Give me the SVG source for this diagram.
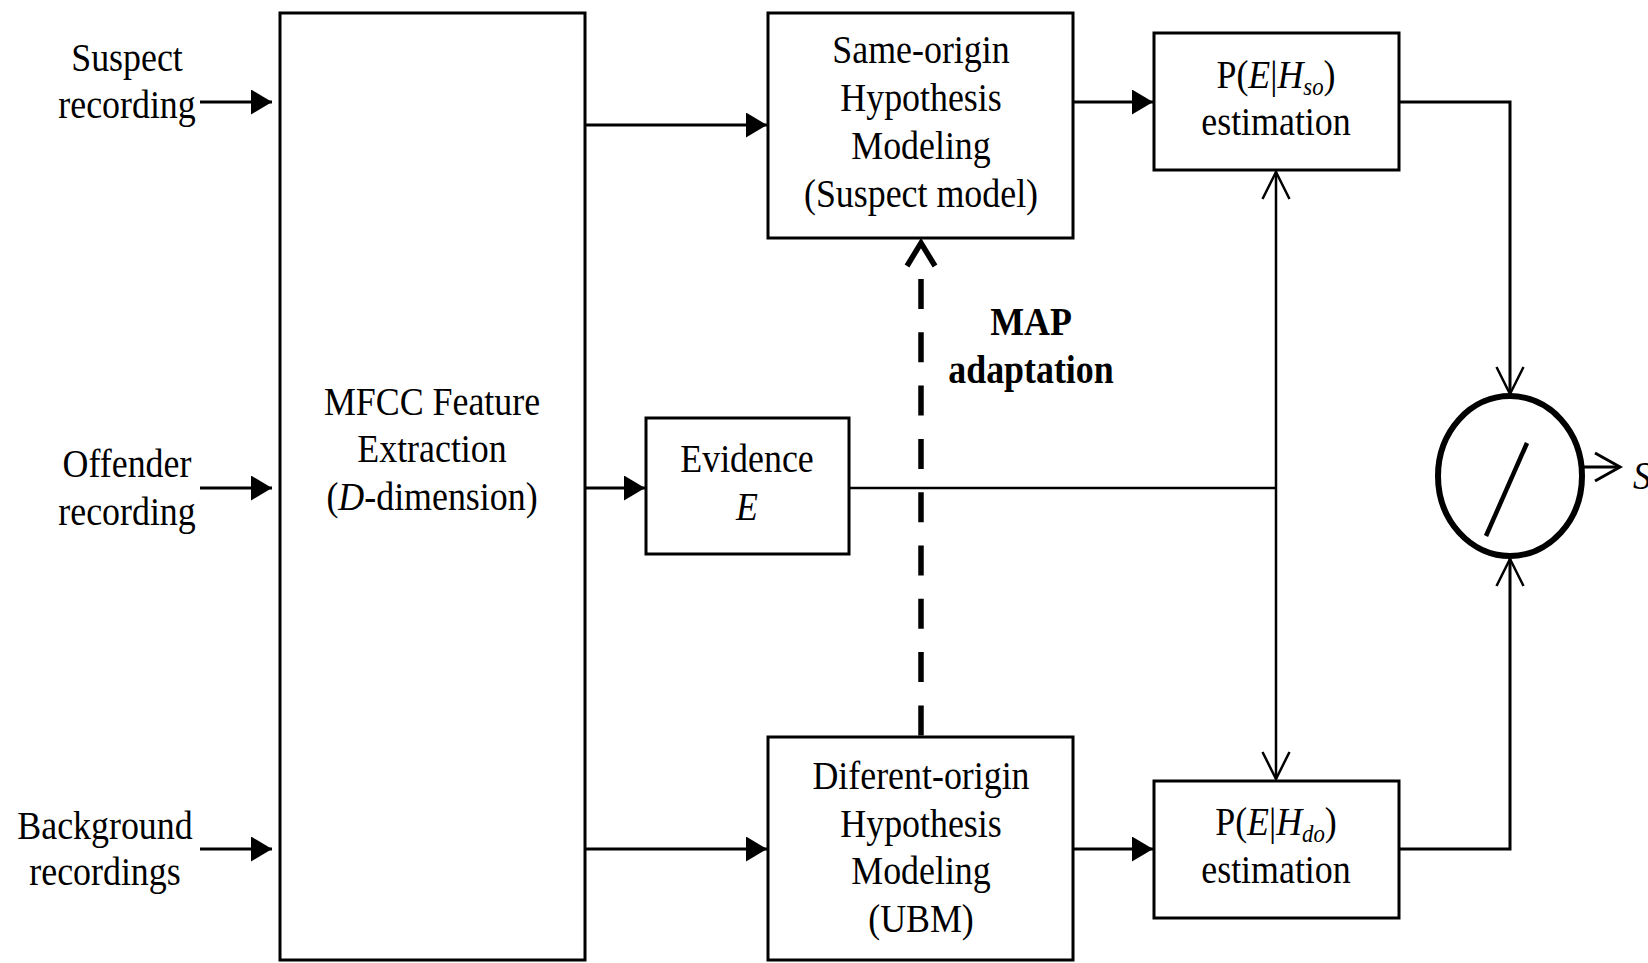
<svg xmlns="http://www.w3.org/2000/svg" width="1648" height="963" viewBox="0 0 1648 963">
<style>
.box{fill:#fff;stroke:#000;stroke-width:3}
.t{font-family:"Liberation Serif","Times New Roman",serif;font-size:41px;text-anchor:middle;fill:#000}
.b{font-weight:bold}
.i{font-style:italic}
.sub{font-style:italic;font-size:26px}
.conn{fill:none;stroke:#000;stroke-width:3}
.thin{fill:none;stroke:#000;stroke-width:2.5}
</style>
<defs>
<marker id="fa" markerUnits="userSpaceOnUse" viewBox="0 0 22 26" markerWidth="22" markerHeight="26" refX="21" refY="12.5" orient="auto">
<path d="M0,0 L21,12.5 L0,25 z" fill="#000"/>
</marker>
<marker id="oa" markerUnits="userSpaceOnUse" viewBox="-3 -3 34 34" markerWidth="34" markerHeight="34" refX="27" refY="13.5" orient="auto-start-reverse">
<path d="M0,0 L27,13.5 L0,27" fill="none" stroke="#000" stroke-width="2.5"/>
</marker>
<marker id="os" markerUnits="userSpaceOnUse" viewBox="-3 -3 32 34" markerWidth="32" markerHeight="34" refX="25" refY="14" orient="auto">
<path d="M0,0 L25,14 L0,28" fill="none" stroke="#000" stroke-width="3"/>
</marker>
</defs>
<rect width="1648" height="963" fill="#fff"/>

<g id="connectors">
<path class="conn" d="M200,102 H272" marker-end="url(#fa)"/>
<path class="conn" d="M200,488 H272" marker-end="url(#fa)"/>
<path class="conn" d="M200,849 H272" marker-end="url(#fa)"/>
<path class="conn" d="M585,125 H767" marker-end="url(#fa)"/>
<path class="conn" d="M585,488 H645" marker-end="url(#fa)"/>
<path class="conn" d="M585,849 H767" marker-end="url(#fa)"/>
<path class="conn" d="M1073,102 H1153" marker-end="url(#fa)"/>
<path class="conn" d="M1073,849 H1153" marker-end="url(#fa)"/>
<path class="thin" d="M849,488 H1276"/>
<path class="thin" d="M1276,172 V779" marker-start="url(#oa)" marker-end="url(#oa)"/>
<path class="conn" d="M1399,102 H1510 V394" marker-end="url(#oa)"/>
<path class="conn" d="M1399,849 H1510 V559" marker-end="url(#oa)"/>
<path class="conn" d="M1584,467 H1620" marker-end="url(#os)"/>
<path d="M921,279 V737" fill="none" stroke="#000" stroke-width="5.5" stroke-dasharray="30 23.3"/>
<polyline points="907,266 921,243 935,266" fill="none" stroke="#000" stroke-width="5.5"/>
</g>

<g id="label-suspect" transform="translate(127,0) scale(0.875,1)">
<text class="t" x="0" y="71">Suspect</text>
<text class="t" x="0" y="118">recording</text>
</g>
<g id="label-offender" transform="translate(127,0) scale(0.875,1)">
<text class="t" x="0" y="477">Offender</text>
<text class="t" x="0" y="525">recording</text>
</g>
<g id="label-background" transform="translate(105,0) scale(0.875,1)">
<text class="t" x="0" y="839">Background</text>
<text class="t" x="0" y="885">recordings</text>
</g>

<g id="mfcc">
<rect class="box" x="280" y="13" width="305" height="947"/>
<g transform="translate(432,0) scale(0.875,1)">
<text class="t" x="0" y="415">MFCC Feature</text>
<text class="t" x="0" y="462">Extraction</text>
<text class="t" x="0" y="510">(<tspan class="i">D</tspan>-dimension)</text>
</g>
</g>

<g id="same-origin">
<rect class="box" x="768" y="13" width="305" height="225"/>
<g transform="translate(921,0) scale(0.875,1)">
<text class="t" x="0" y="63">Same-origin</text>
<text class="t" x="0" y="111">Hypothesis</text>
<text class="t" x="0" y="159">Modeling</text>
<text class="t" x="0" y="207">(Suspect model)</text>
</g>
</g>

<g id="p-so">
<rect class="box" x="1154" y="33" width="245" height="137"/>
<g transform="translate(1276,0) scale(0.875,1)">
<text class="t" x="0" y="88">P(<tspan class="i">E</tspan>|<tspan class="i">H</tspan><tspan class="sub" dy="7">so</tspan><tspan dy="-7">)</tspan></text>
<text class="t" x="0" y="135">estimation</text>
</g>
</g>

<g id="evidence">
<rect class="box" x="646" y="418" width="203" height="136"/>
<g transform="translate(747,0) scale(0.875,1)">
<text class="t" x="0" y="472">Evidence</text>
<text class="t i" x="0" y="520">E</text>
</g>
</g>

<g id="map-label" transform="translate(1031,0) scale(0.875,1)">
<text class="t b" x="0" y="335">MAP</text>
<text class="t b" x="0" y="383">adaptation</text>
</g>

<g id="diff-origin">
<rect class="box" x="768" y="737" width="305" height="223"/>
<g transform="translate(921,0) scale(0.875,1)">
<text class="t" x="0" y="789">Diferent-origin</text>
<text class="t" x="0" y="837">Hypothesis</text>
<text class="t" x="0" y="884">Modeling</text>
<text class="t" x="0" y="932">(UBM)</text>
</g>
</g>

<g id="p-do">
<rect class="box" x="1154" y="781" width="245" height="137"/>
<g transform="translate(1276,0) scale(0.875,1)">
<text class="t" x="0" y="835">P(<tspan class="i">E</tspan>|<tspan class="i">H</tspan><tspan class="sub" dy="7">do</tspan><tspan dy="-7">)</tspan></text>
<text class="t" x="0" y="883">estimation</text>
</g>
</g>

<g id="divider">
<ellipse cx="1510" cy="476" rx="72" ry="80" fill="#fff" stroke="#000" stroke-width="6"/>
<line x1="1527" y1="443" x2="1486" y2="536" stroke="#000" stroke-width="4.5"/>
</g>

<g id="output-label" transform="translate(1633,0) scale(0.875,1)">
<text class="t i" x="0" y="489" style="text-anchor:start">S</text>
</g>
</svg>
